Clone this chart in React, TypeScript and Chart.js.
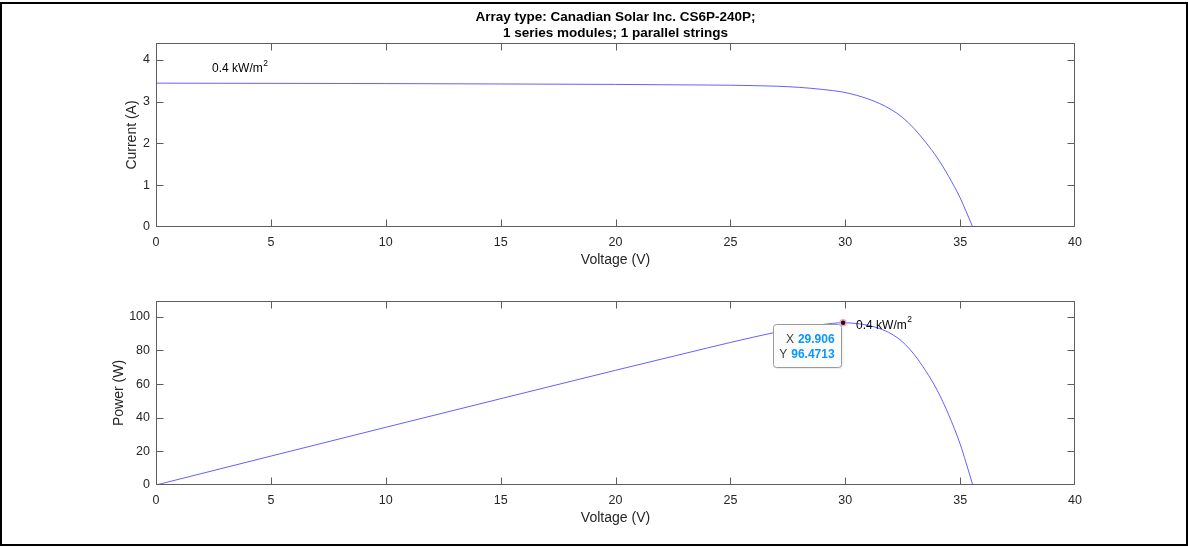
import React, { useEffect, useRef } from "react";
import { Chart, registerables } from "chart.js";

Chart.register(...registerables);

// ---------- data ----------
const TITLE_LINES = [
  "Array type: Canadian Solar Inc. CS6P-240P;",
  "1 series modules; 1 parallel strings",
];
const X_TITLE = "Voltage (V)";
const I_TITLE = "Current (A)";
const P_TITLE = "Power (W)";
const IRR_TEXT = "0.4 kW/m";
const IRR_SUP = "2";

const VOLTAGE = [0, 5, 10, 15, 20, 22, 24, 25, 26, 27, 28, 29, 29.906, 30.5, 31, 31.5, 32, 32.5, 33, 33.5, 34, 34.5, 35, 35.25, 35.55];
const CURRENT = [3.44, 3.435, 3.43, 3.42, 3.41, 3.402, 3.395, 3.39, 3.381, 3.367, 3.339, 3.29, 3.2258, 3.148, 3.061, 2.952, 2.809, 2.615, 2.352, 2.027, 1.659, 1.212, 0.697, 0.386, 0];
const POWER = [0, 17.18, 34.3, 51.3, 68.2, 74.84, 81.48, 84.75, 87.9, 90.9, 93.5, 95.4, 96.4713, 96.0, 94.9, 93.0, 89.9, 85.0, 77.6, 67.9, 56.4, 41.8, 24.4, 13.6, 0];

const X_TICKS = [0, 5, 10, 15, 20, 25, 30, 35, 40];
const I_TICKS = [0, 1, 2, 3, 4];
const P_TICKS = [0, 20, 40, 60, 80, 100];
const X_RANGE = [0, 40];
const I_RANGE = [0, 4.4];
const P_RANGE = [0, 109.4];

const MPP_X = [29.906];
const MPP_Y = [96.4713];
const TIP_X_TEXT = "29.906";
const TIP_Y_TEXT = "96.4713";

const I_LABEL_AT = [2.44, 3.78];
const P_LABEL_AT = [30.47, 94.9];

// ---------- styling / layout ----------
const FONT = '"Liberation Sans", Arial, Helvetica, sans-serif';
const W = 1188;
const CANVAS_H = 274;
const AREA_LEFT = 156;
const AREA_RIGHT = 1075;
const AXIS_COLOR = "#5e5e5e";
const TEXT_COLOR = "#262626";
const LINE_COLOR = "rgb(70,70,255)";
const TICK_LEN = 7;

type Kind = "I" | "P";

function makePlugin(kind: Kind) {
  const isI = kind === "I";
  const yTicks = isI ? I_TICKS : P_TICKS;
  return {
    id: "matlabDecor" + kind,
    afterDatasetDraw(chart: any, args: any) {
      if (isI) return;
      const ds = chart.data.datasets[args.index];
      if (ds.label !== "curve") return;
      const ctx = chart.ctx;
      const xs = chart.scales.x;
      const ys = chart.scales.y;
      const px = xs.getPixelForValue(MPP_X[0]);
      const py = ys.getPixelForValue(MPP_Y[0]);
      const bx = px - 70.5;
      const by = py + 1.5;
      const bw = 68;
      const bh = 43;
      ctx.save();
      ctx.shadowColor = "rgba(0,0,0,0.12)";
      ctx.shadowBlur = 2;
      ctx.shadowOffsetX = 1;
      ctx.shadowOffsetY = 1;
      ctx.beginPath();
      ctx.roundRect(Math.round(bx) + 0.5, Math.round(by) + 0.5, bw, bh, 3);
      ctx.fillStyle = "#fcfcfc";
      ctx.fill();
      ctx.shadowColor = "transparent";
      ctx.strokeStyle = "#9a9a9a";
      ctx.lineWidth = 1;
      ctx.stroke();
      const right = px - 8.5;
      const lines = [
        ["X", TIP_X_TEXT, py + 17],
        ["Y", TIP_Y_TEXT, py + 31.7],
      ];
      ctx.textBaseline = "middle";
      for (const [lab, val, yy] of lines as any) {
        ctx.font = "bold 12px " + FONT;
        ctx.textAlign = "right";
        ctx.fillStyle = "#0a96ff";
        ctx.fillText(val, right, yy);
        const vw = ctx.measureText(val).width;
        ctx.font = "12px " + FONT;
        ctx.fillStyle = "#404040";
        ctx.fillText(lab, right - vw - 4, yy);
      }
      ctx.restore();
    },
    afterDraw(chart: any) {
      const ctx = chart.ctx;
      const a = chart.chartArea;
      const xs = chart.scales.x;
      const ys = chart.scales.y;
      ctx.save();
      const L = Math.round(a.left) + 0.5;
      const R = Math.round(a.right) - 0.5;
      const T = Math.round(a.top) + 0.5;
      const B = Math.round(a.bottom) - 0.5;
      ctx.strokeStyle = AXIS_COLOR;
      ctx.lineWidth = 1;
      ctx.strokeRect(L, T, R - L, B - T);
      ctx.beginPath();
      for (const v of X_TICKS) {
        const p = Math.min(Math.max(Math.round(xs.getPixelForValue(v)) + 0.5, L), R);
        ctx.moveTo(p, B);
        ctx.lineTo(p, B - TICK_LEN);
        ctx.moveTo(p, T);
        ctx.lineTo(p, T + TICK_LEN);
      }
      for (const v of yTicks) {
        const p = Math.min(Math.max(Math.round(ys.getPixelForValue(v)) + 0.5, T), B);
        ctx.moveTo(L, p);
        ctx.lineTo(L + TICK_LEN, p);
        ctx.moveTo(R, p);
        ctx.lineTo(R - TICK_LEN, p);
      }
      ctx.stroke();

      ctx.fillStyle = TEXT_COLOR;
      ctx.font = "14px " + FONT;
      ctx.textAlign = "center";
      ctx.textBaseline = "middle";
      ctx.fillText(X_TITLE, (a.left + a.right) / 2, a.bottom + 33);
      ctx.save();
      ctx.translate(isI ? 132.5 : 119, (a.top + a.bottom) / 2);
      ctx.rotate(-Math.PI / 2);
      ctx.fillText(isI ? I_TITLE : P_TITLE, 0, 0);
      ctx.restore();

      if (isI) {
        ctx.fillStyle = "#000";
        ctx.font = "bold 13.5px " + FONT;
        ctx.fillText(TITLE_LINES[0], (a.left + a.right) / 2, 17.5);
        ctx.fillText(TITLE_LINES[1], (a.left + a.right) / 2, 33.5);
      }

      const at = isI ? I_LABEL_AT : P_LABEL_AT;
      const lx = xs.getPixelForValue(at[0]);
      const ly = ys.getPixelForValue(at[1]);
      ctx.fillStyle = "#000";
      ctx.textAlign = "left";
      ctx.textBaseline = "middle";
      ctx.font = "12px " + FONT;
      ctx.fillText(IRR_TEXT, lx, ly);
      const tw = ctx.measureText(IRR_TEXT).width;
      ctx.font = "8.5px " + FONT;
      ctx.fillText(IRR_SUP, lx + tw + 0.5, ly - 5.5);
      ctx.restore();
    },
  };
}

function buildConfig(kind: Kind): any {
  const isI = kind === "I";
  const yVals = isI ? CURRENT : POWER;
  const yRange = isI ? I_RANGE : P_RANGE;
  const yTicks = isI ? I_TICKS : P_TICKS;
  const areaTop = isI ? 43 : 27;
  const areaBottom = isI ? 227 : 211;
  const datasets: any[] = [];
  if (!isI) {
    datasets.push({
      label: "mpp",
      type: "scatter",
      data: MPP_X.map((x, i) => ({ x, y: MPP_Y[i] })),
      pointRadius: 3,
      pointBackgroundColor: "#151515",
      pointBorderColor: "#f5a3cf",
      pointBorderWidth: 1.5,
      showLine: false,
    });
  }
  datasets.push({
    label: "curve",
    type: "line",
    data: VOLTAGE.map((v, i) => ({ x: v, y: yVals[i] })),
    borderColor: LINE_COLOR,
    borderWidth: 0.85,
    pointRadius: 0,
    fill: false,
    cubicInterpolationMode: "monotone",
  });
  const tickFont = { family: FONT, size: 12.5 };
  return {
    type: "line",
    data: { datasets },
    options: {
      animation: false,
      responsive: false,
      maintainAspectRatio: false,
      devicePixelRatio: 1,
      layout: { padding: { top: areaTop, right: W - AREA_RIGHT, left: 0, bottom: 0 } },
      plugins: { legend: { display: false }, tooltip: { enabled: false }, title: { display: false } },
      events: [],
      scales: {
        x: {
          type: "linear",
          min: X_RANGE[0],
          max: X_RANGE[1],
          afterBuildTicks: (s: any) => {
            s.ticks = X_TICKS.map((v) => ({ value: v }));
          },
          afterFit: (s: any) => {
            s.height = CANVAS_H - areaBottom;
          },
          grid: { display: false, drawTicks: false },
          border: { display: false },
          ticks: { font: tickFont, color: TEXT_COLOR, padding: 8.5, maxRotation: 0, autoSkip: false },
        },
        y: {
          type: "linear",
          min: yRange[0],
          max: yRange[1],
          afterBuildTicks: (s: any) => {
            s.ticks = yTicks.map((v) => ({ value: v }));
          },
          afterFit: (s: any) => {
            s.width = AREA_LEFT;
          },
          grid: { display: false, drawTicks: false },
          border: { display: false },
          ticks: { font: tickFont, color: TEXT_COLOR, padding: 6, autoSkip: false },
        },
      },
    },
    plugins: [makePlugin(kind)],
  };
}

function PlotCanvas({ kind, top }: { kind: Kind; top: number }) {
  const ref = useRef<HTMLCanvasElement | null>(null);
  useEffect(() => {
    if (!ref.current) return;
    const chart = new Chart(ref.current, buildConfig(kind));
    return () => chart.destroy();
  }, [kind]);
  return (
    <canvas
      ref={ref}
      width={W}
      height={CANVAS_H}
      style={{ position: "absolute", left: 0, top, width: W, height: CANVAS_H, display: "block" }}
    />
  );
}

export default function App() {
  return (
    <div
      style={{
        position: "absolute",
        left: 0,
        top: 0,
        width: W,
        height: 548,
        background: "#fff",
        overflow: "hidden",
      }}
    >
      <PlotCanvas kind="I" top={0} />
      <PlotCanvas kind="P" top={CANVAS_H} />
      <div
        style={{
          position: "absolute",
          left: 0,
          top: 2,
          width: W,
          height: 544,
          border: "2px solid #000",
          boxSizing: "border-box",
          pointerEvents: "none",
        }}
      />
    </div>
  );
}
